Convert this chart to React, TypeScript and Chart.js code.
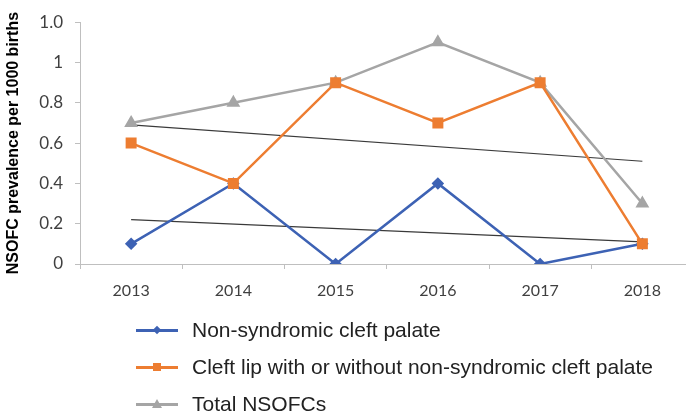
import React, { useEffect, useRef } from "react";
import { Chart, registerables } from "chart.js";

Chart.register(...registerables);

const years = ["2013", "2014", "2015", "2016", "2017", "2018"];
const cleftPalate = [0.1, 0.4, 0, 0.4, 0, 0.1];
const cleftLip = [0.6, 0.4, 0.9, 0.7, 0.9, 0.1];
const totalNsofc = [0.7, 0.8, 0.9, 1.1, 0.9, 0.3];
const trendCleftLip = [0.69, null, null, null, null, 0.51];
const trendPalate = [0.22, null, null, null, null, 0.11];
const yTickLabels = ["0", "0.2", "0.4", "0.6", "0.8", "1", "1.0"];

const legendItems = [
  { label: "Non-syndromic cleft palate", color: "#3D62B4", marker: "diamond" },
  { label: "Cleft lip with or without non-syndromic cleft palate", color: "#ED7D31", marker: "square" },
  { label: "Total NSOFCs", color: "#A5A5A5", marker: "triangle" },
];

function Marker({ kind, color }: { kind: string; color: string }) {
  let m: React.ReactNode = null;
  if (kind === "diamond") {
    m = <span style={{ position: "absolute", left: 18, top: 4, width: 6, height: 6, background: color, transform: "rotate(45deg)" }} />;
  } else if (kind === "square") {
    m = <span style={{ position: "absolute", left: 17, top: 3, width: 8, height: 8, background: color }} />;
  } else {
    m = <span style={{ position: "absolute", left: 16, top: 2, width: 0, height: 0, borderLeft: "5px solid transparent", borderRight: "5px solid transparent", borderBottom: "9px solid " + color }} />;
  }
  return (
    <span style={{ position: "relative", display: "inline-block", width: 42, height: 14 }}>
      <span style={{ position: "absolute", left: 0, top: 6, width: 42, height: 2.5, background: color }} />
      {m}
    </span>
  );
}

export default function App() {
  const ref = useRef<HTMLCanvasElement>(null);
  useEffect(() => {
    if (!ref.current) return;
    const chart = new Chart(ref.current, {
      type: "line",
      data: {
        labels: years,
        datasets: [
          {
            label: "Non-syndromic cleft palate",
            data: cleftPalate,
            borderColor: "#3D62B4",
            backgroundColor: "#3D62B4",
            borderWidth: 2.5,
            pointStyle: "rectRot",
            pointRadius: 4.5,
            order: 2,
          },
          {
            label: "Cleft lip with or without non-syndromic cleft palate",
            data: cleftLip,
            borderColor: "#ED7D31",
            backgroundColor: "#ED7D31",
            borderWidth: 2.5,
            pointStyle: "rect",
            pointRadius: 6,
            order: 1,
          },
          {
            label: "Total NSOFCs",
            data: totalNsofc,
            borderColor: "#A5A5A5",
            backgroundColor: "#A5A5A5",
            borderWidth: 2.5,
            pointStyle: "triangle",
            pointRadius: 5.5,
            order: 3,
          },
          {
            label: "trend1",
            data: trendCleftLip,
            borderColor: "#3a3a3a",
            borderWidth: 1.2,
            pointRadius: 0,
            spanGaps: true,
            order: 4,
          },
          {
            label: "trend2",
            data: trendPalate,
            borderColor: "#3a3a3a",
            borderWidth: 1.2,
            pointRadius: 0,
            spanGaps: true,
            order: 4,
          },
        ],
      },
      options: {
        animation: false,
        responsive: false,
        maintainAspectRatio: false,
        layout: { padding: { top: 22, right: 0, bottom: 0, left: 0 } },
        plugins: { legend: { display: false }, tooltip: { enabled: false } },
        scales: {
          x: {
            offset: true,
            grid: { offset: true, drawOnChartArea: false, drawTicks: true, tickLength: 5, color: "#BFBFBF" },
            border: { display: true, color: "#BFBFBF", width: 1 },
            ticks: { color: "#404040", font: { family: "Lato", size: 16 }, padding: 12, maxRotation: 0 },
            afterFit: (s: any) => { s.height = 151; },
          },
          y: {
            min: 0,
            max: 1.2,
            ticks: {
              stepSize: 0.2,
              color: "#404040",
              font: { family: "Lato", size: 17 },
              padding: 12,
              callback: (_v: any, i: number) => yTickLabels[i],
            },
            grid: { drawOnChartArea: false, drawTicks: true, tickLength: 5, color: "#BFBFBF" },
            border: { display: true, color: "#BFBFBF", width: 1 },
            title: {
              display: true,
              text: "NSOFC prevalence per 1000 births",
              color: "#000",
              font: { family: "Liberation Sans", size: 16, weight: "bold" },
              padding: { top: 4, bottom: 0 },
            },
            afterFit: (s: any) => { s.width = 80; },
          },
        },
      },
    });
    return () => chart.destroy();
  }, []);

  const rowCenters = [330, 367, 404];
  return (
    <div style={{ position: "fixed", left: 0, top: 0, width: 686, height: 415, overflow: "hidden", background: "#fff" }}>
      <canvas ref={ref} width={702} height={415} style={{ display: "block", width: 702, height: 415 }} />
      {legendItems.map((it, i) => (
        <div key={i} style={{ position: "absolute", left: 136, top: rowCenters[i] - 13, height: 26, display: "flex", alignItems: "center", whiteSpace: "nowrap" }}>
          <Marker kind={it.marker} color={it.color} />
          <span style={{ marginLeft: 14, fontFamily: "Liberation Sans", fontSize: 21, color: "#222" }}>{it.label}</span>
        </div>
      ))}
    </div>
  );
}
